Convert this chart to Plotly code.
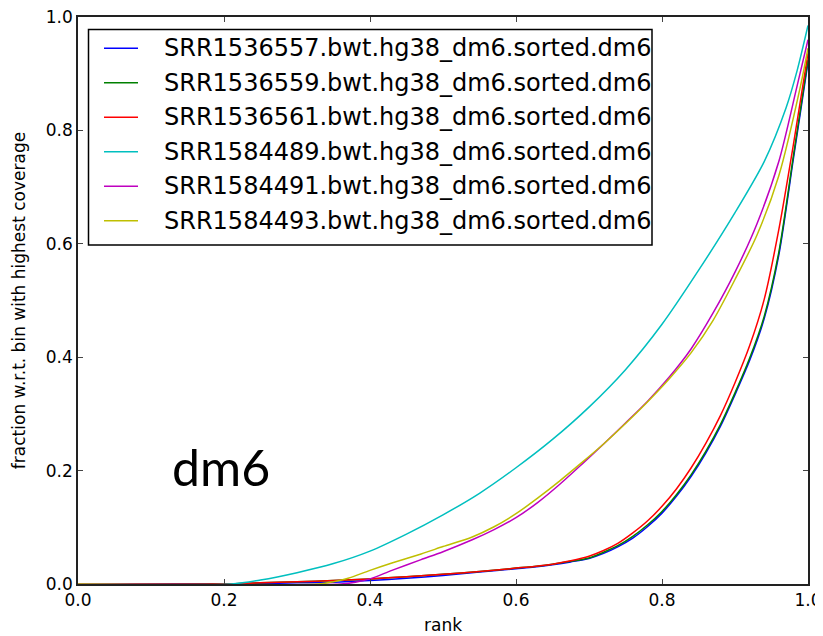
import plotly.graph_objects as go

names = [
    "SRR1536557.bwt.hg38_dm6.sorted.dm6",
    "SRR1536559.bwt.hg38_dm6.sorted.dm6",
    "SRR1536561.bwt.hg38_dm6.sorted.dm6",
    "SRR1584489.bwt.hg38_dm6.sorted.dm6",
    "SRR1584491.bwt.hg38_dm6.sorted.dm6",
    "SRR1584493.bwt.hg38_dm6.sorted.dm6",
]
colors = ["#0000ff", "#008000", "#ff0000", "#00bfbf", "#bf00bf", "#bfbf00"]

rgb_x = [0.0, 0.2, 0.25, 0.3, 0.35, 0.4, 0.45, 0.5, 0.55, 0.6, 0.625, 0.65, 0.675, 0.70, 0.72, 0.74, 0.76, 0.78,
         0.80, 0.82, 0.84, 0.86, 0.88, 0.90, 0.92, 0.94, 0.96, 0.98, 1.0]
blue_y = [0.0, 0.0, 0.001, 0.002, 0.003, 0.006, 0.010, 0.015, 0.021, 0.027, 0.030, 0.034, 0.039, 0.045, 0.054, 0.066,
          0.081, 0.101, 0.125, 0.155, 0.19, 0.231, 0.278, 0.334, 0.394, 0.468, 0.58, 0.75, 0.92]
green_y = [0.0, 0.0, 0.002, 0.004, 0.006, 0.009, 0.013, 0.017, 0.022, 0.028, 0.031, 0.035, 0.040, 0.046, 0.056, 0.068,
           0.084, 0.104, 0.128, 0.158, 0.193, 0.234, 0.281, 0.337, 0.398, 0.472, 0.585, 0.755, 0.925]
red_y = [0.0, 0.0, 0.002, 0.004, 0.006, 0.009, 0.013, 0.017, 0.022, 0.028, 0.031, 0.035, 0.041, 0.049, 0.059, 0.072,
         0.090, 0.111, 0.137, 0.168, 0.205, 0.248, 0.297, 0.355, 0.42, 0.502, 0.625, 0.775, 0.936]

cyan_x = [0.0, 0.21, 0.25, 0.3, 0.35, 0.4, 0.45, 0.5, 0.55, 0.6, 0.65, 0.7, 0.75, 0.8, 0.85, 0.9, 0.94, 0.97, 0.985, 1.0]
cyan_y = [0.0, 0.0, 0.007, 0.020, 0.036, 0.058, 0.088, 0.122, 0.160, 0.205, 0.255, 0.312, 0.378, 0.458, 0.553, 0.655,
          0.745, 0.84, 0.905, 0.985]

magenta_x = [0.0, 0.36, 0.38, 0.4, 0.43, 0.47, 0.5, 0.54, 0.57, 0.6, 0.63, 0.66, 0.69, 0.72, 0.75, 0.78, 0.81, 0.84,
             0.87, 0.9, 0.93, 0.96, 0.985, 1.0]
magenta_y = [0.0, 0.0, 0.003, 0.009, 0.024, 0.043, 0.057, 0.078, 0.096, 0.117, 0.144, 0.176, 0.211, 0.247, 0.284,
             0.322, 0.365, 0.415, 0.478, 0.55, 0.635, 0.745, 0.878, 0.96]

yellow_x = [0.0, 0.33, 0.35, 0.37, 0.4, 0.43, 0.47, 0.5, 0.54, 0.57, 0.6, 0.63, 0.66, 0.69, 0.72, 0.75, 0.78, 0.81,
            0.84, 0.87, 0.9, 0.93, 0.96, 0.99, 1.0]
yellow_y = [0.0, 0.0, 0.004, 0.010, 0.024, 0.037, 0.053, 0.066, 0.083, 0.101, 0.124, 0.152, 0.182, 0.214, 0.247,
            0.283, 0.321, 0.362, 0.408, 0.465, 0.537, 0.615, 0.72, 0.88, 0.945]

series = [
    (rgb_x, blue_y), (rgb_x, green_y), (rgb_x, red_y),
    (cyan_x, cyan_y), (magenta_x, magenta_y), (yellow_x, yellow_y),
]

tick_vals = [0.0, 0.2, 0.4, 0.6, 0.8, 1.0]
tick_text = ["0.0", "0.2", "0.4", "0.6", "0.8", "1.0"]

FONT = "DejaVu Sans"

# The page body has an 8px margin, so the figure is 8px smaller than the window.
W, H = 815, 628
ML, MR, MT, MB = 70, 15, 9, 52
PW = W - ML - MR
PH = H - MT - MB
OFF = 8  # page offset


def px_x(p):
    return (p - OFF - ML) / PW


def px_y(p):
    return (H - MB + OFF - p) / PH


fig = go.Figure()
for (xs, ys), nm, col in zip(series, names, colors):
    fig.add_trace(go.Scatter(
        x=xs, y=ys, mode="lines", name=nm, showlegend=False,
        line=dict(color=col, width=1.5, shape="spline", smoothing=0.8),
    ))

axis_common = dict(
    range=[0, 1], showgrid=False, zeroline=False, automargin=False,
    showline=True, linecolor="#222222", linewidth=1.5, mirror="allticks",
    ticks="inside", ticklen=5, tickwidth=1, tickcolor="#444444",
    tickvals=tick_vals, ticktext=tick_text, ticklabeloverflow="allow",
    tickfont=dict(family=FONT, size=17, color="black"),
)

# legend drawn as a boxed list
shapes = [dict(
    type="rect", xref="paper", yref="paper", layer="above",
    x0=px_x(88.5), x1=px_x(652), y0=px_y(245), y1=px_y(29.5),
    line=dict(color="black", width=1.5), fillcolor="white",
)]
annotations = []
row_y = [48.3, 82.8, 117.2, 151.7, 186.2, 220.7]
for ry, nm, col in zip(row_y, names, colors):
    shapes.append(dict(
        type="line", xref="paper", yref="paper", layer="above",
        x0=px_x(104), x1=px_x(138), y0=px_y(ry), y1=px_y(ry),
        line=dict(color=col, width=1.5),
    ))
    annotations.append(dict(
        x=px_x(161.5), y=px_y(ry), xref="paper", yref="paper",
        xanchor="left", yanchor="middle", showarrow=False, text=nm,
        font=dict(family=FONT, size=24, color="black"),
    ))

annotations.append(dict(
    x=0.126, y=0.206, xref="x", yref="y", xanchor="left", yanchor="middle",
    text="dm6", showarrow=False, font=dict(family="Lato", size=50, color="black"),
))

fig.update_layout(
    width=W, height=H,
    margin=dict(l=ML, r=MR, t=MT, b=MB, autoexpand=False),
    paper_bgcolor="white", plot_bgcolor="white",
    font=dict(family=FONT, color="black"),
    xaxis=dict(**axis_common, title=dict(text="rank", font=dict(family=FONT, size=17), standoff=10)),
    yaxis=dict(**axis_common, title=dict(text="fraction w.r.t. bin with highest coverage", font=dict(family=FONT, size=17), standoff=16)),
    showlegend=False,
    shapes=shapes,
    annotations=annotations,
)

fig.write_html("out.html")
